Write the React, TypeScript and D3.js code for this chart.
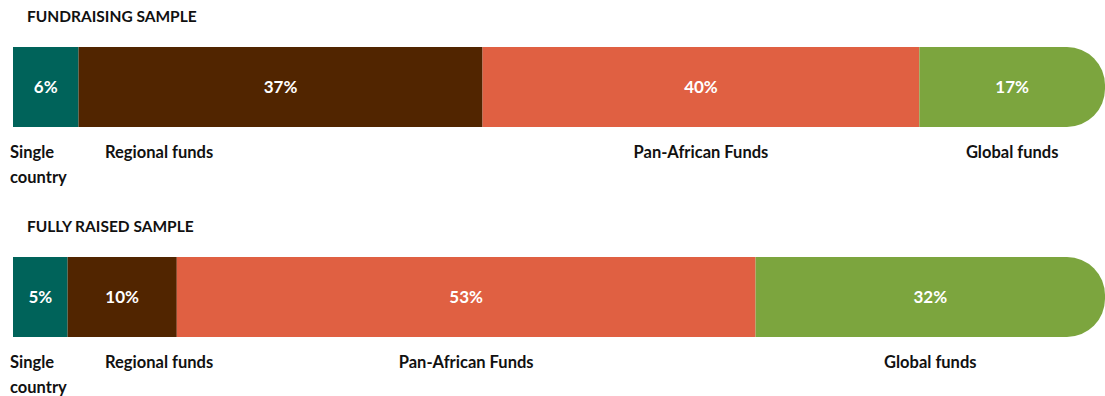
import React from "react";
import * as d3 from "d3";

const categories = ["Single country", "Regional funds", "Pan-African Funds", "Global funds"];
const fundraisingValues = [6, 37, 40, 17];
const fullyRaisedValues = [5, 10, 53, 32];
const sampleTitles = ["FUNDRAISING SAMPLE", "FULLY RAISED SAMPLE"];
const colors = ["#00635A", "#512500", "#E06042", "#7CA53E"];

const W = 1105;
const H = 396;
const FONT = "Lato, 'Open Sans', sans-serif";
const LABEL_GUTTER = 105;

function segPath(x0: number, x1: number, y0: number, y1: number, r: number, roundRight: boolean) {
  const p = d3.path();
  if (!roundRight) {
    p.rect(x0, y0, x1 - x0, y1 - y0);
    return p.toString();
  }
  const rr = Math.min(r, (y1 - y0) / 2, x1 - x0);
  p.moveTo(x0, y0);
  p.lineTo(x1 - rr, y0);
  p.arcTo(x1, y0, x1, y0 + rr, rr);
  p.lineTo(x1, y1 - rr);
  p.arcTo(x1, y1, x1 - rr, y1, rr);
  p.lineTo(x0, y1);
  p.closePath();
  return p.toString();
}

function Bar({ values, title, top }: { values: number[]; title: string; top: number }) {
  const x = d3.scaleLinear().domain([0, d3.sum(values)]).range([13, 1105]);
  const cum = d3.cumsum(values);
  const starts = values.map((v, i) => cum[i] - v);
  const barTop = top + 36;
  const barH = 80;
  const barBot = barTop + barH;
  return (
    <g>
      <text x={27} y={top + 11} fontFamily={FONT} fontWeight={700} fontSize={15.5} fill="#111">
        {title}
      </text>
      {values.map((v, i) => {
        const x0 = x(starts[i]);
        const x1 = x(cum[i]);
        const cx = (x0 + x1) / 2;
        return (
          <g key={i}>
            <path d={segPath(x0, x1, barTop, barBot, 38, i === values.length - 1)} fill={colors[i]} />
            <text
              x={cx}
              y={barTop + barH / 2 + 6}
              textAnchor="middle"
              fontFamily={FONT}
              fontWeight={700}
              fontSize={17}
              fill="#fff"
            >
              {v + "%"}
            </text>
          </g>
        );
      })}
      {categories.map((c, i) => {
        const x0 = x(starts[i]);
        const x1 = x(cum[i]);
        if (i === 0) {
          const parts = c.split(" ");
          return (
            <text key={c} x={x0 - 3} y={barBot + 31} fontFamily={FONT} fontWeight={700} fontSize={16.5} fill="#111">
              {parts.map((p, k) => (
                <tspan key={k} x={x0 - 3} dy={k === 0 ? 0 : 25}>
                  {p}
                </tspan>
              ))}
            </text>
          );
        }
        if (i === 1) {
          return (
            <text
              key={c}
              x={Math.max(x0, LABEL_GUTTER)}
              y={barBot + 31}
              fontFamily={FONT}
              fontWeight={700}
              fontSize={16.5}
              fill="#111"
            >
              {c}
            </text>
          );
        }
        const last = i === categories.length - 1;
        const lx = last ? Math.min((x0 + x1) / 2, W - 55) : (x0 + x1) / 2;
        return (
          <text
            key={c}
            x={lx}
            y={barBot + 31}
            textAnchor="middle"
            fontFamily={FONT}
            fontWeight={700}
            fontSize={16.5}
            fill="#111"
          >
            {c}
          </text>
        );
      })}
    </g>
  );
}

export default function App() {
  return (
    <svg
      width={W}
      height={H}
      viewBox={`0 0 ${W} ${H}`}
      style={{ position: "absolute", left: 0, top: 0, background: "#fff" }}
    >
      <Bar values={fundraisingValues} title={sampleTitles[0]} top={11} />
      <Bar values={fullyRaisedValues} title={sampleTitles[1]} top={221} />
    </svg>
  );
}
